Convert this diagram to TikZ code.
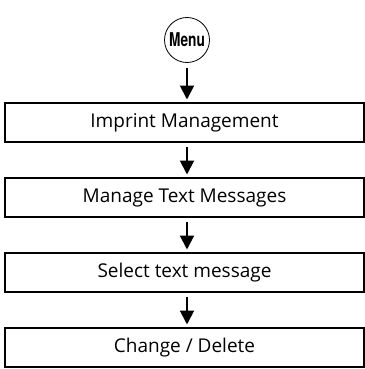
\documentclass[tikz,border=0pt]{standalone}
\usepackage{fontspec}
\setmainfont{Open Sans}
\newfontfamily\menufont{TeX Gyre Heros}
\usetikzlibrary{arrows.meta}
\begin{document}
\begin{tikzpicture}[x=1pt,y=1pt,
  stepbox/.style={draw=black, line width=1.3pt, minimum width=359pt, minimum height=39pt, inner sep=0pt, font=\fontsize{19}{19}\selectfont},
  menucircle/.style={draw=black, line width=0.8pt, circle, minimum size=45pt, inner sep=0pt, font=\menufont\bfseries\fontsize{19}{19}\selectfont},
  flow/.style={line width=2pt, -{Triangle[width=14pt,length=14pt]}}]
\useasboundingbox (0,0) rectangle (364,-369);
\node[menucircle] (menu) at (187,-40) {\scalebox{0.72}[1]{Menu}};
\node[stepbox] (b1) at (184.5,-122.5) {Imprint Management};
\node[stepbox] (b2) at (184.5,-197.5) {Manage Text Messages};
\node[stepbox] (b3) at (184.5,-272.5) {Select text message};
\node[stepbox] (b4) at (184.5,-347.5) {Change / Delete};
\coordinate (t1) at (187,-103.5);
\coordinate (t2) at (187,-178.5);
\coordinate (t3) at (187,-253.5);
\coordinate (t4) at (187,-328.5);
\draw[flow] (menu.south |- 0,-68) -- ([yshift=4pt]t1);
\draw[flow] (t1 |- b1.south) ++(0,-4) -- ([yshift=4pt]t2);
\draw[flow] (t2 |- b2.south) ++(0,-4) -- ([yshift=4pt]t3);
\draw[flow] (t3 |- b3.south) ++(0,-4) -- ([yshift=4pt]t4);
\end{tikzpicture}
\end{document}
